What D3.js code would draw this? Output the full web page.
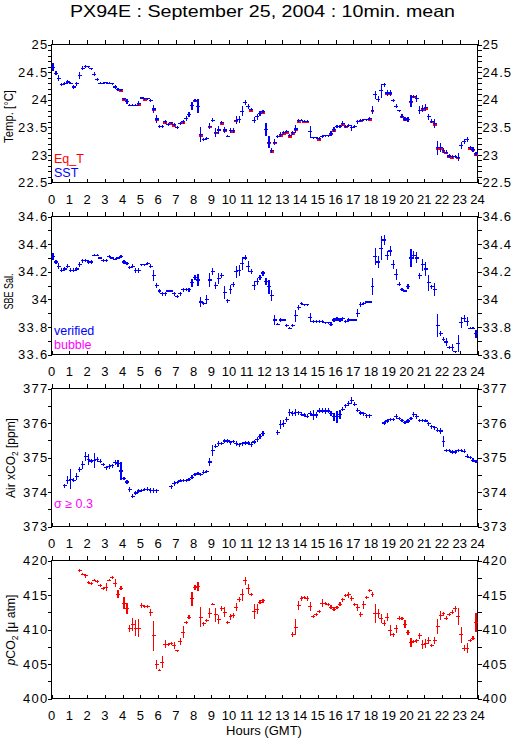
<!DOCTYPE html>
<html>
<head>
<meta charset="utf-8">
<script src="https://cdn.jsdelivr.net/npm/d3@7"></script>
<style>
  body { margin: 0; background: #fff; }
  text { font-family: "Liberation Sans", Arial, sans-serif; }
</style>
</head>
<body>
<div id="chart"></div>
<script>
// 10 minute bins, 144 per day (bin i is centred at (i + 0.5) / 6 hours)
var hourTicks = d3.range(0, 25);
var tempTicks = [22.5, 23, 23.5, 24, 24.5, 25];
var salTicks = [33.6, 33.8, 34, 34.2, 34.4, 34.6];
var airTicks = [373, 374, 375, 376, 377];
var pco2Ticks = [400, 405, 410, 415, 420];

var sst = [
  24.59,24.48,24.39,24.28,24.30,24.32,24.30,24.23,24.29,24.44,
  24.57,24.60,24.60,24.56,24.46,24.37,24.30,24.30,24.31,24.30,
  24.29,24.23,24.18,24.18,24.02,23.97,23.90,23.90,23.90,23.93,
  24.03,24.02,24.02,23.98,23.83,23.65,23.51,23.52,23.60,23.55,
  23.58,23.55,23.49,23.57,23.60,23.66,23.73,23.89,23.99,23.88,
  23.37,23.28,23.30,23.52,23.63,23.41,23.45,23.58,23.45,23.34,
  23.44,23.44,23.63,23.64,23.79,23.95,23.88,23.82,23.63,23.69,
  23.75,23.78,23.46,23.23,23.08,23.23,23.33,23.37,23.40,23.42,
  23.35,23.40,23.47,23.62,23.63,23.61,23.61,23.42,23.31,23.31,
  23.29,23.34,23.35,23.35,23.39,23.46,23.52,23.51,23.57,23.52,
  23.53,23.49,23.52,23.60,23.63,23.64,23.64,23.66,23.81,24.09,
  24.01,24.16,24.27,24.12,24.12,23.99,23.88,23.80,23.70,23.65,
  23.64,23.97,24.06,24.02,23.81,23.84,23.86,23.69,23.61,23.57,
  23.13,23.13,23.08,23.05,22.98,22.97,22.97,22.96,23.17,23.24,
  23.28,23.13,23.10,23.02
];
var sstSig = [
  0.06,0.03,0.05,0.02,0.02,0.02,0.01,0.03,0.03,0.06,
  0.03,0.02,0.01,0.01,0.03,0.02,0.01,0.01,0.01,0.01,
  0.01,0.02,0.02,0.01,0.01,0.03,0.01,0.01,0.01,0.03,
  0.01,0.01,0.01,0.02,0.07,0.06,0.02,0.02,0.03,0.02,
  0.01,0.02,0.02,0.02,0.03,0.03,0.03,0.06,0.02,0.12,
  0.12,0.02,0.02,0.05,0.03,0.07,0.06,0.02,0.04,0.01,
  0.03,0.03,0.06,0.06,0.08,0.03,0.04,0.02,0.04,0.04,
  0.03,0.02,0.10,0.10,0.04,0.04,0.02,0.03,0.02,0.02,
  0.02,0.03,0.07,0.02,0.01,0.01,0.01,0.10,0.01,0.01,
  0.02,0.02,0.01,0.01,0.03,0.03,0.02,0.02,0.03,0.02,
  0.02,0.04,0.02,0.03,0.02,0.01,0.01,0.02,0.06,0.06,
  0.04,0.12,0.03,0.05,0.04,0.02,0.03,0.01,0.03,0.03,
  0.04,0.10,0.02,0.06,0.06,0.06,0.06,0.04,0.03,0.07,
  0.12,0.07,0.03,0.03,0.02,0.02,0.02,0.06,0.05,0.04,
  0.04,0.03,0.03,0.03
];
// Eq_T only shows where it peeks out below SST
var eqBins = [23,24,29,31,34,35,38,40,41,44,48,50,53,55,57,58,61,62,67,71,
  73,74,75,77,78,79,80,81,82,83,85,86,90,94,95,98,99,104,107,108,
  113,114,118,119,121,122,125,126,128,129,130,131,132,133,134,135,137,141,142,143];
var eqVals = [24.16,24.00,23.91,24.00,23.81,23.63,23.58,23.56,23.53,23.58,23.97,23.35,23.50,23.39,23.56,23.43,23.42,23.61,23.80,23.76,
  23.21,23.06,23.21,23.35,23.38,23.40,23.33,23.38,23.45,23.60,23.59,23.59,23.27,23.37,23.44,23.55,23.50,23.61,23.64,23.79,
  24.10,24.10,23.68,23.63,23.95,24.04,23.82,23.84,23.59,23.55,23.11,23.11,23.06,23.03,22.96,22.95,22.94,23.11,23.08,23.00];

var sal = [
  34.31,34.27,34.24,34.21,34.22,34.24,34.21,34.21,34.22,34.25,
  34.28,34.28,34.27,34.27,34.32,34.32,34.30,34.28,34.28,34.31,
  34.30,34.29,34.30,34.31,34.27,34.26,34.23,34.24,34.21,34.21,
  34.25,34.25,34.26,34.24,34.17,34.10,34.06,34.04,34.04,34.06,
  34.06,34.04,34.02,34.04,34.07,34.07,34.07,34.12,34.16,34.14,
  33.98,33.97,34.00,34.14,34.20,34.10,34.15,34.17,34.05,33.99,
  34.07,34.11,34.20,34.21,34.26,34.30,34.24,34.20,34.10,34.13,
  34.16,34.19,34.13,34.09,34.03,33.85,33.82,33.85,33.85,33.81,
  33.79,33.81,33.88,33.94,33.97,33.96,33.96,33.87,33.84,33.84,
  33.84,33.84,33.83,33.83,33.82,33.85,33.86,33.85,33.86,33.84,
  33.85,33.85,33.85,33.90,33.96,33.97,33.98,33.98,34.09,34.31,
  34.27,34.37,34.43,34.32,34.35,34.25,34.18,34.11,34.07,34.06,
  34.09,34.30,34.32,34.30,34.17,34.25,34.22,34.12,34.09,34.07,
  33.81,33.75,33.71,33.69,33.65,33.65,33.62,33.68,33.83,33.86,
  33.84,33.79,33.79,33.75
];
var salSig = [
  0.024,0.01,0.02,0.01,0.01,0.01,0.01,0.01,0.01,0.015,
  0.01,0.005,0.01,0.01,0.005,0.005,0.005,0.005,0.005,0.01,
  0.005,0.005,0.005,0.01,0.01,0.01,0.01,0.01,0.015,0.015,
  0.005,0.005,0.005,0.01,0.036,0.015,0.01,0.01,0.01,0.005,
  0.005,0.01,0.01,0.01,0.01,0.005,0.01,0.024,0.015,0.042,
  0.03,0.01,0.027,0.048,0.02,0.024,0.039,0.015,0.042,0.01,
  0.03,0.015,0.04,0.038,0.042,0.015,0.036,0.015,0.026,0.02,
  0.015,0.015,0.02,0.048,0.036,0.03,0.005,0.01,0.005,0.01,
  0.005,0.01,0.039,0.015,0.005,0.005,0.005,0.03,0.005,0.005,
  0.005,0.005,0.005,0.005,0.01,0.01,0.01,0.01,0.01,0.01,
  0.01,0.005,0.005,0.028,0.015,0.01,0.005,0.005,0.058,0.058,
  0.039,0.082,0.03,0.03,0.03,0.03,0.033,0.01,0.005,0.005,
  0.015,0.064,0.024,0.036,0.02,0.04,0.048,0.054,0.01,0.045,
  0.078,0.015,0.01,0.024,0.01,0.02,0.005,0.057,0.036,0.024,
  0.027,0.005,0.005,0.024
];

var air = [
  null,null,null,null,374.18,374.34,374.37,374.34,374.45,374.65,
  374.79,375.03,374.95,374.90,374.92,374.94,374.89,374.80,374.70,374.74,
  374.76,374.86,374.82,374.61,374.39,374.29,374.08,373.88,373.97,374.03,
  374.05,374.07,374.08,374.05,374.05,374.04,null,null,null,null,
  374.15,374.24,374.28,374.32,374.33,374.34,374.37,374.43,374.51,374.53,
  374.50,374.57,374.60,374.87,375.21,375.33,375.40,375.40,375.48,375.48,
  375.43,375.47,375.40,375.37,375.40,375.42,375.42,375.38,375.45,375.53,
  375.60,375.69,null,null,null,null,375.72,375.95,375.98,376.10,
  376.30,376.27,376.30,376.30,376.25,376.23,376.20,376.27,376.23,376.23,
  376.35,376.35,376.35,376.35,376.27,376.18,376.18,376.24,376.40,376.50,
  376.56,376.66,376.54,376.37,376.29,376.27,376.21,376.21,null,null,
  null,null,376.00,376.06,376.09,376.10,376.20,376.13,376.08,376.02,
  376.06,376.13,376.24,376.18,376.08,376.08,376.06,375.98,375.89,375.86,
  375.79,375.77,375.47,375.21,375.21,375.16,375.16,375.21,375.21,375.18,
  375.04,375.00,374.92,374.89
];
var airSig = [
  null,null,null,null,0.04,0.1,0.27,0.04,0.1,0.05,
  0.1,0.12,0.15,0.05,0.2,0.06,0.04,0.04,0.04,0.05,
  0.05,0.05,0.08,0.24,0.04,0.05,0.06,0.04,0.04,0.03,
  0.03,0.03,0.04,0.06,0.05,0.04,null,null,null,null,
  0.04,0.05,0.03,0.03,0.03,0.03,0.03,0.04,0.03,0.03,
  0.03,0.04,0.03,0.1,0.15,0.04,0.05,0.03,0.05,0.04,
  0.04,0.03,0.05,0.04,0.04,0.05,0.05,0.05,0.05,0.06,
  0.06,0.05,null,null,null,null,0.06,0.11,0.08,0.05,
  0.08,0.05,0.08,0.04,0.04,0.04,0.05,0.05,0.12,0.06,
  0.06,0.06,0.07,0.06,0.05,0.1,0.16,0.11,0.05,0.05,
  0.05,0.09,0.04,0.05,0.05,0.04,0.05,0.05,null,null,
  null,null,0.04,0.04,0.03,0.04,0.06,0.04,0.03,0.03,
  0.04,0.04,0.06,0.06,0.03,0.03,0.03,0.04,0.04,0.05,
  0.05,0.06,0.15,0.03,0.03,0.03,0.03,0.03,0.03,0.04,
  0.05,0.04,0.04,0.03
];

var pco2 = [
  null,null,null,null,null,null,null,null,null,418.55,
  418.02,417.78,416.76,416.62,417.15,416.91,416.38,415.89,416.14,417.15,
  417.54,416.71,415.12,415.99,413.82,413.00,410.14,410.68,410.19,410.19,
  413.48,413.29,413.29,412.46,409.08,404.88,404.11,405.27,407.87,407.83,
  407.92,407.68,406.91,408.26,409.61,411.01,411.79,414.44,416.14,416.23,
  411.79,410.82,411.26,412.37,413.67,412.13,411.40,413.09,412.51,411.06,
  411.84,412.03,413.24,414.30,415.02,417.05,415.89,415.12,412.61,412.93,
  413.96,414.15,null,null,null,null,null,null,null,null,
  null,409.32,410.34,413.48,414.54,414.69,414.44,413.33,411.88,412.13,
  412.61,413.82,413.82,413.67,413.24,412.95,413.19,413.67,414.30,414.93,
  415.02,414.44,413.67,413.19,412.22,413.57,414.64,415.65,415.02,412.37,
  412.27,411.55,410.92,411.79,409.81,409.23,410.10,411.64,411.64,410.77,
  409.57,408.16,408.26,408.36,409.08,407.78,407.97,408.36,407.68,408.41,
  410.43,412.03,412.27,411.64,412.22,412.51,413.00,411.88,409.23,407.29,
  407.29,408.41,408.74,411.01
];
var pco2Sig = [
  null,null,null,null,null,null,null,null,null,0.15,
  0.12,0.2,0.15,0.15,0.12,0.12,0.15,0.15,0.55,0.12,
  0.12,0.5,0.5,0.2,0.75,0.75,0.5,0.85,1.1,1.2,
  0.35,0.12,0.12,0.4,2.15,0.6,0.1,0.8,0.5,0.2,
  0.15,0.5,0.1,0.5,0.8,0.2,0.2,0.9,0.3,0.55,
  1.4,0.2,0.15,0.7,0.1,0.9,0.6,0.3,0.65,0.15,
  0.4,0.25,0.55,0.3,0.8,0.5,0.65,0.15,0.95,0.65,
  0.2,0.2,null,null,null,null,null,null,null,null,
  null,0.3,1.1,0.6,0.3,0.15,0.3,0.6,0.15,0.15,
  0.2,0.55,0.15,0.15,0.25,0.2,0.15,0.2,0.2,0.15,
  0.4,0.3,0.15,0.5,0.3,0.5,0.2,0.2,0.3,1.3,
  0.6,0.6,0.4,0.5,0.7,0.2,0.55,0.2,0.15,0.5,
  0.25,0.6,0.2,0.2,0.4,0.6,0.55,0.45,0.1,0.4,
  1.0,0.55,0.2,0.2,0.15,0.2,0.4,1.1,1.1,0.4,
  0.65,0.2,0.2,1.3
];

var width = 515, height = 739,
    left = 51.5, right = 477.5,
    plotH = 138;

var svg = d3.select("#chart").append("svg")
    .attr("width", width)
    .attr("height", height);

var x = d3.scaleLinear().domain([0, 24]).range([left, right]);
var binHour = function(i) { return (i + 0.5) / 6; };
var half = 1 / 12; // 5 minutes

svg.append("text")
    .attr("x", 262.5).attr("y", 17)
    .attr("text-anchor", "middle")
    .attr("font-size", 16.5)
    .attr("textLength", 385)
    .attr("lengthAdjust", "spacingAndGlyphs")
    .text("PX94E : September 25, 2004 : 10min. mean");

var fmt = function(v) { return String(+v.toFixed(1)); };

// series: {vals, sig, bins, color, flat, sw}
var drawPanel = function(p) {
  var top = p.top;
  var y = d3.scaleLinear().domain(p.domain).range([top + plotH, top]);
  var g = svg.append("g");

  var minors = d3.range(p.domain[0], p.domain[1] + p.minor / 2, p.minor);

  var axes = g.append("g").attr("shape-rendering", "crispEdges");
  axes.append("g").attr("transform", "translate(" + left + ",0)")
      .call(d3.axisLeft(y).tickValues(minors).tickSize(4).tickSizeOuter(0).tickFormat(""));
  axes.append("g").attr("transform", "translate(" + right + ",0)")
      .call(d3.axisRight(y).tickValues(minors).tickSize(4).tickSizeOuter(0).tickFormat(""));
  axes.append("g").attr("transform", "translate(0," + top + ")")
      .call(d3.axisTop(x).tickValues(hourTicks).tickSize(5).tickSizeOuter(0).tickFormat(""));
  axes.append("g").attr("transform", "translate(0," + (top + plotH) + ")")
      .call(d3.axisBottom(x).tickValues(hourTicks).tickSize(-4).tickSizeOuter(0).tickFormat(""));
  axes.selectAll(".domain").remove();
  axes.append("rect")
      .attr("x", left).attr("y", top)
      .attr("width", right - left).attr("height", plotH)
      .attr("fill", "none").attr("stroke", "#000");

  // y labels both sides
  g.selectAll(".yl").data(p.ticks).enter().append("text")
      .attr("x", 48.5).attr("y", function(d) { return y(d); })
      .attr("dy", "0.36em").attr("text-anchor", "end")
      .attr("font-size", 13).attr("letter-spacing", 1.3)
      .text(fmt);
  g.selectAll(".yr").data(p.ticks).enter().append("text")
      .attr("x", 482.5).attr("y", function(d) { return y(d); })
      .attr("dy", "0.36em").attr("text-anchor", "start")
      .attr("font-size", 13).attr("letter-spacing", 1.1)
      .text(fmt);

  // hour labels
  g.selectAll(".xl").data(hourTicks).enter().append("text")
      .attr("x", function(d) { return x(d); })
      .attr("y", top + plotH + 21)
      .attr("text-anchor", "middle")
      .attr("font-size", 13)
      .text(function(d) { return d; });

  // axis title, squeezed to the length seen in the chart
  var t = g.append("text").attr("font-size", 13).attr("text-anchor", "middle");
  p.title(t);
  var w = t.node().getComputedTextLength();
  t.attr("transform", "translate(" + p.tx + "," + p.ty + ") rotate(-90) scale(" + (p.tlen / w) + ",1)");

  // legend lines
  p.legend.forEach(function(l) {
    g.append("text").attr("x", 54).attr("y", l[2])
        .attr("font-size", 12.5).attr("fill", l[1]).text(l[0]);
  });

  // marks: one cross per 10 min bin
  var marks = g.append("g").attr("shape-rendering", "crispEdges");
  p.series.forEach(function(s) {
    var pts = [];
    s.vals.forEach(function(v, k) {
      if (v == null) return;
      var i = s.bins ? s.bins[k] : k;
      pts.push({ t: binHour(i), v: v, s: s.sig ? s.sig[k] : 0 });
    });
    var sg = marks.append("g").attr("stroke", s.color).attr("stroke-width", s.sw || 1.2);
    sg.selectAll("line.h").data(pts).enter().append("line")
        .attr("x1", function(d) { return x(d.t - half) - 0.5; })
        .attr("x2", function(d) { return x(d.t + half) + 0.5; })
        .attr("y1", function(d) { return y(d.v); })
        .attr("y2", function(d) { return y(d.v); });
    if (!s.flat) {
      sg.selectAll("line.v").data(pts).enter().append("line")
          .attr("x1", function(d) { return x(d.t); })
          .attr("x2", function(d) { return x(d.t); })
          .attr("y1", function(d) { return y(d.v - d.s) + 0.5; })
          .attr("y2", function(d) { return y(d.v + d.s) - 0.5; });
    }
  });
};

var sub2 = function(t, before, after) {
  t.append("tspan").text(before);
  t.append("tspan").attr("font-size", 9).attr("dy", 3).text("2");
  t.append("tspan").attr("dy", -3).text(after);
};

drawPanel({
  top: 44.5, domain: [22.5, 25], ticks: tempTicks, minor: 0.1,
  title: function(t) { t.text("Temp. [°C]"); }, tx: 12.5, ty: 116.5, tlen: 53,
  legend: [["Eq_T", "#ff0000", 163], ["SST", "#0000ff", 176.5]],
  series: [
    { vals: eqVals, bins: eqBins, color: "#ff0000", flat: true, sw: 2 },
    { vals: sst, sig: sstSig, color: "#0000ff" }
  ]
});

drawPanel({
  top: 216.5, domain: [33.6, 34.6], ticks: salTicks, minor: 0.1,
  title: function(t) { t.text("SBE Sal."); }, tx: 12.5, ty: 291.5, tlen: 36,
  legend: [["verified", "#0000ff", 335], ["bubble", "#ff00ff", 348.5]],
  series: [{ vals: sal, sig: salSig, color: "#0000ff" }]
});

drawPanel({
  top: 388.5, domain: [373, 377], ticks: airTicks, minor: 0.5,
  title: function(t) { sub2(t, "Air xCO", " [ppm]"); }, tx: 15, ty: 458, tlen: 80,
  legend: [["\u03c3 \u2265 0.3", "#ff00ff", 508]],
  series: [{ vals: air, sig: airSig, color: "#0000ff" }]
});

drawPanel({
  top: 560.5, domain: [400, 420], ticks: pco2Ticks, minor: 2.5,
  title: function(t) {
    t.append("tspan").attr("font-style", "italic").text("p");
    sub2(t, "CO", " [\u03bc atm]");
  }, tx: 15, ty: 630, tlen: 71,
  legend: [],
  series: [{ vals: pco2, sig: pco2Sig, color: "#ff0000" }]
});

svg.append("text")
    .attr("x", 264).attr("y", 735)
    .attr("text-anchor", "middle")
    .attr("font-size", 13)
    .text("Hours (GMT)");
</script>
</body>
</html>
